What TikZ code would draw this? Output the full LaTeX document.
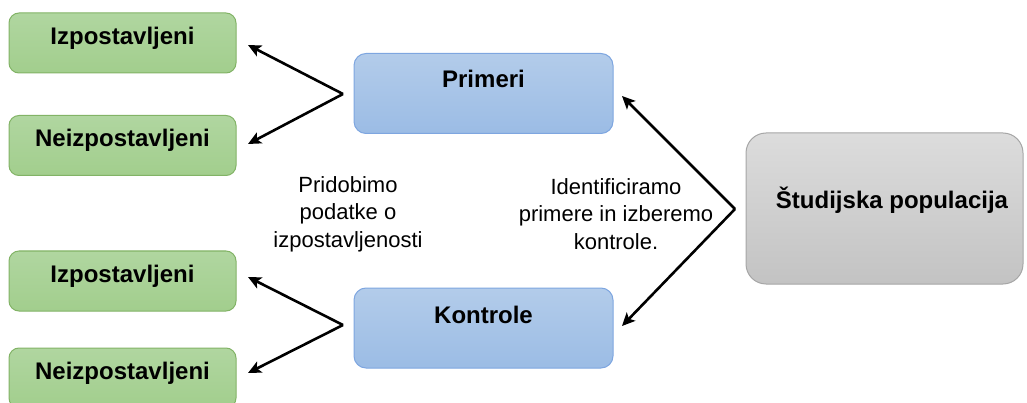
\documentclass[tikz,border=0pt]{standalone}
\usepackage{fontspec}
\setmainfont{Liberation Sans}
\usetikzlibrary{arrows.meta}
\begin{document}
\begin{tikzpicture}[x=1pt,y=-1pt,
  greenbox/.style={line width=1pt, rounded corners=10pt,
    minimum width=227pt, minimum height=60pt, top color=grtop, bottom color=grbot, inner sep=0pt, draw=grline},
  bluebox/.style={line width=1pt, rounded corners=12pt, minimum width=259pt, minimum height=80pt,
    top color=bltop, bottom color=blbot, draw=blline, inner sep=0pt},
  graybox/.style={line width=1pt, rounded corners=20pt, minimum width=277pt, minimum height=151pt,
    top color=gytop, bottom color=gybot, draw=gyline, inner sep=0pt},
  boxtext/.style={font=\fontsize{24}{28}\selectfont\bfseries, inner sep=0pt},
  plain/.style={font=\fontsize{22}{27.5}\selectfont, align=center, inner sep=0pt},
  arr/.style={line width=2.6pt, -{Stealth[length=13pt,width=12pt,inset=3pt]}}
]
\definecolor{grtop}{HTML}{B0D6A0}
\definecolor{grbot}{HTML}{A2CE8D}
\definecolor{grline}{HTML}{82B366}
\definecolor{bltop}{HTML}{B3CCEA}
\definecolor{blbot}{HTML}{9BBCE5}
\definecolor{blline}{HTML}{7EA6E0}
\definecolor{gytop}{HTML}{DCDCDC}
\definecolor{gybot}{HTML}{C3C3C3}
\definecolor{gyline}{HTML}{A6A6A6}
\useasboundingbox (0,0) rectangle (1027,403);
\clip (0,0) rectangle (1027,403);

\node[greenbox] (g1) at (122.5,43) {};
\node[greenbox] (g2) at (122.5,145.5) {};
\node[greenbox] (g3) at (122.5,281) {};
\node[greenbox] (g4) at (122.5,378) {};
\node[boxtext] (g1t) at (122.5,38) {Izpostavljeni};
\node[boxtext] (g2t) at (122.5,140) {Neizpostavljeni};
\node[boxtext] (g3t) at (122.5,276) {Izpostavljeni};
\node[boxtext] (g4t) at (122.5,373) {Neizpostavljeni};

\node[bluebox] (pr) at (483.5,93.5) {};
\node[bluebox] (ko) at (483.5,328) {};
\node[boxtext] (prt) at (483.5,79) {Primeri};
\node[boxtext] (kot) at (483.5,315) {Kontrole};

\node[graybox] (sp) at (884.5,208.5) {};
\node[boxtext] (spt) at (892,200) {Študijska populacija};

\node[plain] (lt) at (348,214) {Pridobimo\\podatke o\\izpostavljenosti};
\node[plain] (rt) at (616,214) {Identificiramo\\primere in izberemo\\kontrole.};

\coordinate (pv) at (343,94);
\coordinate (kv) at (343,325);
\coordinate (sv) at (735,209);
\coordinate (a1) at (248,45);
\coordinate (a2) at (248,144);
\coordinate (a3) at (248,277);
\coordinate (a4) at (248,373);
\coordinate (a5) at (622,96);
\coordinate (a6) at (622,326);

\draw[arr] (pv) -- (a1);
\draw[arr] (pv) -- (a2);
\draw[arr] (kv) -- (a3);
\draw[arr] (kv) -- (a4);
\draw[arr] (sv) -- (a5);
\draw[arr] (sv) -- (a6);
\end{tikzpicture}
\end{document}
